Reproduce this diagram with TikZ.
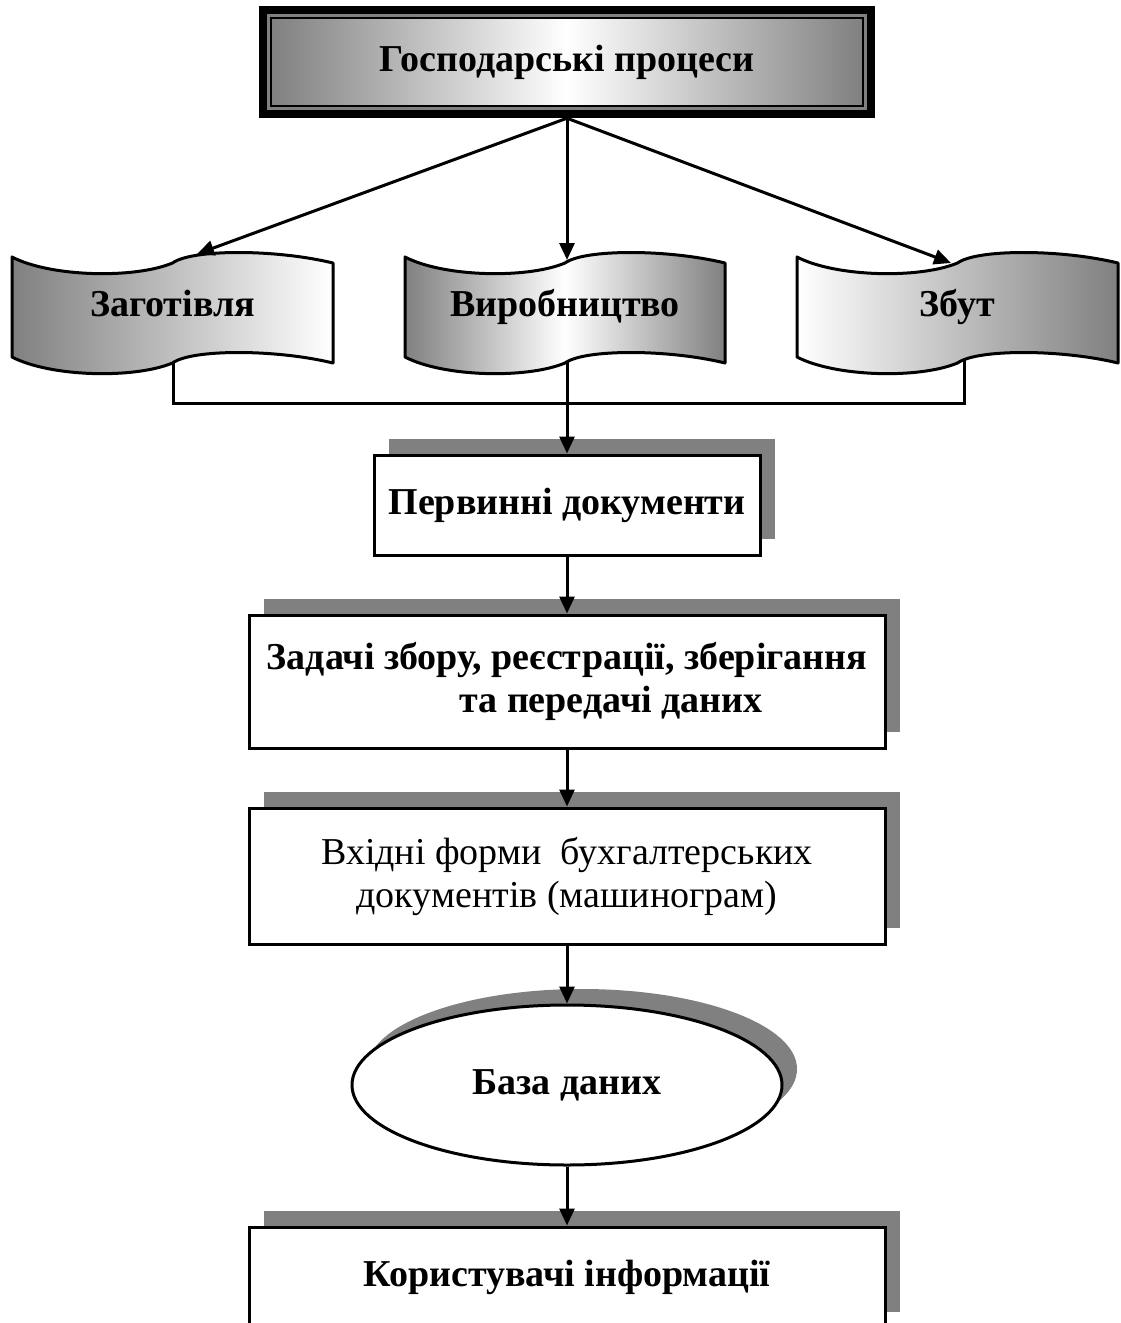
\documentclass[tikz,border=0pt]{standalone}
\usepackage{fontspec}
\setmainfont{Liberation Serif}
\usetikzlibrary{arrows.meta,shadows,shapes.geometric}
\definecolor{shadegray}{RGB}{128,128,128}
\newcommand\lbl{\fontsize{38}{43}\selectfont\bfseries}
\newcommand\lblreg{\fontsize{38}{43}\selectfont}
\tikzset{
  plain/.style={line width=3pt},
  conn/.style={line width=3pt, -{Triangle[length=17pt,width=15pt]}},
  box/.style={draw, line width=3pt, fill=white, inner sep=0pt, align=center, font=\lbl,
    drop shadow={shadow xshift=15pt, shadow yshift=16pt, fill=shadegray, opacity=1}},
  bannerline/.style={draw, line width=3pt, line join=round},
}
% wave-shaped banner: #1 left x, #2 right x, #3 y of the top-left corner, #4 fill options
\newcommand\wavebanner[4]{%
  \pgfmathsetmacro\bL{#1}\pgfmathsetmacro\bw{#2-#1}%
  \pgfmathsetmacro\bt{#3}\pgfmathsetmacro\bb{#3+100}%
  \path[bannerline,#4] (\bL,\bt)
    .. controls ({\bL+0.12*\bw},{\bt+20}) and ({\bL+0.38*\bw},{\bt+22}) .. ({\bL+0.5*\bw},{\bt+6})
    .. controls ({\bL+0.56*\bw},{\bt-8}) and ({\bL+0.82*\bw},{\bt-8}) .. (#2,{\bt+6})
    -- (#2,{\bb+6})
    .. controls ({\bL+0.82*\bw},{\bb-8}) and ({\bL+0.56*\bw},{\bb-8}) .. ({\bL+0.5*\bw},{\bb+6})
    .. controls ({\bL+0.38*\bw},{\bb+22}) and ({\bL+0.12*\bw},{\bb+20}) .. (\bL,\bb) -- cycle;
}
\begin{document}
\begin{tikzpicture}[x=1pt,y=-1pt]
\clip (0,0) rectangle (1120,1323);
\fill[white] (0,0) rectangle (1120,1323);

% header with a double frame and a grey-white-grey fill
\node[fill=black, minimum width=616pt, minimum height=112pt, inner sep=0pt, font=\lbl,
  path picture={
    \fill[shadegray] ([shift={(8pt,-8pt)}]path picture bounding box.north west)
      rectangle ([shift={(-8pt,8pt)}]path picture bounding box.south east);
    \draw[line width=2pt, left color=shadegray, right color=shadegray, middle color=white]
      ([shift={(12pt,-12pt)}]path picture bounding box.north west)
      rectangle ([shift={(-12pt,12pt)}]path picture bounding box.south east);
  }] (gosp) at (567,62) {Господарські процеси};

% process chain
\node[box, minimum width=386pt, minimum height=100pt] (perv) at (567,505) {Первинні документи};
\node[box, minimum width=636pt, minimum height=133pt] (zad) at (567,681.5)
  {Задачі збору, реєстрації, зберігання\\\hspace*{88pt}та передачі даних};
\node[box, minimum width=636pt, minimum height=136pt, font=\lblreg] (vkh) at (567,876)
  {Вхідні форми~ бухгалтерських\\документів (машинограм)};
\node[box, ellipse, minimum width=430pt, minimum height=160pt] (baza) at (567,1085) {База даних};
\node[box, minimum width=636pt, minimum height=101pt] (kor) at (567,1277.5) {Користувачі інформації};

% attachment points on the banners
\coordinate (zag-in) at (197,254);
\coordinate (vyr-in) at (567,260);
\coordinate (zbut-in) at (951,263);
\coordinate (zag-out) at (173,340);
\coordinate (vyr-out) at (567,340);
\coordinate (zbut-out) at (964,340);
\coordinate (bus) at (567,403);

% collecting line below the banners
\draw[plain] (zag-out) -- (zag-out |- bus) -- (zbut-out |- bus) -- (zbut-out);
\draw[conn] (vyr-out) -- (perv.north);

% banners
\wavebanner{12}{333}{257}{left color=shadegray, right color=white}
\wavebanner{405}{725}{257}{left color=shadegray, right color=shadegray, middle color=white}
\wavebanner{797}{1118}{257}{left color=white, right color=shadegray}
\node[font=\lbl, anchor=base] (zag) at (172.5,316) {Заготівля};
\node[font=\lbl, anchor=base] (vyr) at (565,316) {Виробництво};
\node[font=\lbl, anchor=base] (zbut) at (957.5,316) {Збут};

% arrows
\draw[conn] (gosp.south) -- (zag-in);
\draw[conn] (gosp.south) -- (vyr-in);
\draw[conn] (gosp.south) -- (zbut-in);
\draw[conn] (perv.south) -- (zad.north);
\draw[conn] (zad.south) -- (vkh.north);
\draw[conn] (vkh.south) -- (baza.north);
\draw[conn] (baza.south) -- (kor.north);
\end{tikzpicture}
\end{document}
